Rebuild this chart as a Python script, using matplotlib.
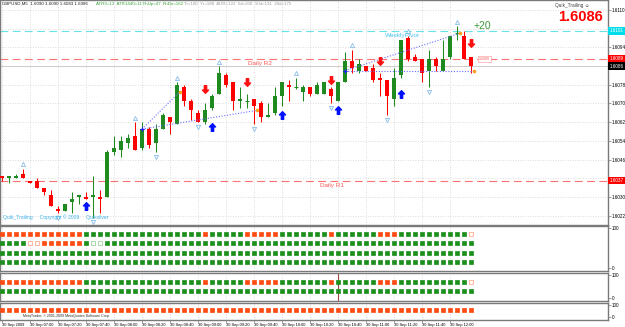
import matplotlib
matplotlib.use("Agg")
import matplotlib.pyplot as plt
import matplotlib.transforms as mtrans
import numpy as np
from matplotlib.path import Path

plt.rcParams.update({
    "font.family": ["Liberation Sans", "DejaVu Sans"],
    "axes.linewidth": 1.0,
})

W, H = 625, 327

# ---- data: GBPUSD M5, 30 Sep 2009, 06:40 .. 12:15 ----
opens = [1.6039, 1.6038, 1.6038, 1.6040, 1.6037, 1.6037, 1.6034, 1.6031, 1.6025, 1.6024,
         1.6028, 1.6030, 1.6030, 1.6030, 1.6030, 1.6030, 1.6049, 1.6050, 1.6053, 1.6056,
         1.6051, 1.6059, 1.6053, 1.6059, 1.6064, 1.6061, 1.6077, 1.6071, 1.6066, 1.6062,
         1.6068, 1.6074, 1.6082, 1.6079, 1.6071, 1.6071, 1.6072, 1.6070, 1.6064, 1.6066,
         1.6073, 1.6078, 1.6077, 1.6075, 1.6077, 1.6074, 1.6074, 1.6076, 1.6071, 1.6079,
         1.6088, 1.6084, 1.6086, 1.6085, 1.6081, 1.6080, 1.6072, 1.6082, 1.6098, 1.6090,
         1.6089, 1.6084, 1.6089, 1.6084, 1.6090, 1.6100, 1.6099, 1.6090]
highs = [1.6039, 1.6039, 1.6040, 1.6042, 1.6037, 1.6038, 1.6034, 1.6033, 1.6026, 1.6027,
         1.6032, 1.6031, 1.6032, 1.6039, 1.6033, 1.6050, 1.6056, 1.6056, 1.6057, 1.6062,
         1.6062, 1.6060, 1.6061, 1.6066, 1.6064, 1.6079, 1.6078, 1.6072, 1.6067, 1.6070,
         1.6074, 1.6086, 1.6083, 1.6079, 1.6077, 1.6074, 1.6072, 1.6071, 1.6070, 1.6077,
         1.6079, 1.6080, 1.6081, 1.6078, 1.6077, 1.6079, 1.6079, 1.6077, 1.6079, 1.6092,
         1.6093, 1.6089, 1.6086, 1.6087, 1.6083, 1.6080, 1.6085, 1.6097, 1.6099, 1.6091,
         1.6089, 1.6093, 1.6090, 1.6097, 1.6099, 1.6103, 1.6101, 1.6090]
lows = [1.6037, 1.6036, 1.6038, 1.6038, 1.6036, 1.6034, 1.6031, 1.6026, 1.6023, 1.6024,
        1.6023, 1.6027, 1.6029, 1.6021, 1.6023, 1.6030, 1.6048, 1.6047, 1.6051, 1.6050,
        1.6050, 1.6051, 1.6049, 1.6059, 1.6057, 1.6061, 1.6069, 1.6063, 1.6062, 1.6061,
        1.6067, 1.6074, 1.6077, 1.6067, 1.6068, 1.6068, 1.6061, 1.6062, 1.6064, 1.6065,
        1.6069, 1.6071, 1.6076, 1.6071, 1.6073, 1.6074, 1.6074, 1.6070, 1.6071, 1.6079,
        1.6083, 1.6083, 1.6084, 1.6079, 1.6073, 1.6065, 1.6069, 1.6081, 1.6088, 1.6088,
        1.6079, 1.6077, 1.6084, 1.6084, 1.6089, 1.6097, 1.6089, 1.6083]
closes = [1.6038, 1.6039, 1.6039, 1.6038, 1.6036, 1.6034, 1.6032, 1.6026, 1.6024, 1.6027,
          1.6029, 1.6031, 1.6029, 1.6031, 1.6029, 1.6049, 1.6051, 1.6054, 1.6055, 1.6050,
          1.6059, 1.6052, 1.6059, 1.6065, 1.6062, 1.6078, 1.6071, 1.6067, 1.6062, 1.6067,
          1.6073, 1.6083, 1.6078, 1.6071, 1.6072, 1.6071, 1.6069, 1.6064, 1.6065, 1.6073,
          1.6079, 1.6077, 1.6077, 1.6077, 1.6074, 1.6078, 1.6079, 1.6073, 1.6079, 1.6088,
          1.6085, 1.6087, 1.6084, 1.6080, 1.6080, 1.6073, 1.6081, 1.6097, 1.6089, 1.6088,
          1.6083, 1.6089, 1.6086, 1.6089, 1.6099, 1.6100, 1.6089, 1.6086]

time_label_bars = [0, 4, 8, 12, 16, 20, 24, 28, 32, 36, 40, 44, 48, 52, 56, 60, 64]
time_labels = ["30 Sep 2009", "30 Sep 07:00", "30 Sep 07:20", "30 Sep 07:40", "30 Sep 08:00",
               "30 Sep 08:20", "30 Sep 08:40", "30 Sep 09:00", "30 Sep 09:20", "30 Sep 09:40",
               "30 Sep 10:00", "30 Sep 10:20", "30 Sep 10:40", "30 Sep 11:00", "30 Sep 11:20",
               "30 Sep 11:40", "30 Sep 12:00"]
price_ticks = [1.6022, 1.6030, 1.6038, 1.6046, 1.6054, 1.6062, 1.6070, 1.6078,
               1.6086, 1.6094, 1.6102, 1.6110]
# labels hidden where a level tag sits on top of them
price_tick_labels = ["1.6022", "1.6030", "", "1.6046", "1.6054", "1.6062", "1.6070",
                     "1.6078", "", "1.6094", "", "1.6110"]

weekly_pivot = 1.6101
daily_r2 = 1.6089
daily_r1 = 1.6037
bid = 1.6086

fractal_up_bars = [3, 19, 25, 31, 42, 50, 58, 65]
fractal_down_bars = [8, 13, 22, 28, 36, 47, 55, 61]
buy_arrow_bars = [12, 30, 40, 48, 57]
buy_arrow_prices = [1.6026, 1.6060, 1.6065, 1.6067, 1.6074]
sell_arrow_bars = [29, 35, 47, 54, 67]
sell_arrow_prices = [1.6076, 1.6079, 1.6080, 1.6088, 1.6096]

trend_x0 = [20, 20, 49, 49]
trend_y0 = [1.6059, 1.6059, 1.6084, 1.6084]
trend_x1 = [25.4, 36.4, 65.4, 67.4]
trend_y1 = [1.6075, 1.6067, 1.6100, 1.6084]

# signal rows of the three lower windows: g/r filled, G/R hollow
row_a = ("rrrrrrrrrrrr" "ggggggggggggggggg" "r" "ggggg" "rrrrr" "ggggggg" "r"
         "gggggg" "rrr" "gggggggggg" "R")
row_b = ("gggg" "RR" "rrrrrr" "g" "GG"
         "ggggggggggggggggggggggggggggggggggggggggggggggggggggg")
row_g = "g" * len(opens)
row_r = "r" * len(opens)
panel1_rows = [row_a, row_b, row_g, row_g]
panel2_rows = [row_a, row_g]
panel3_rows = [row_r]
panel2_marker_bar = 48

# ---- colours ----
GREEN = "#1f8a1f"
RED = "#ff0000"
SQ_GREEN = "#1b8f1b"
SQ_RED = "#ff4a10"
GRID = "#d0d0d0"
FRAME = "#7a7a7a"

fig = plt.figure(figsize=(W / 100, H / 100), dpi=100)
fig.patch.set_facecolor("white")


def px_axes(x0, y0, x1, y1):
    return fig.add_axes([x0 / W, 1 - y1 / H, (x1 - x0) / W, (y1 - y0) / H])


ax = px_axes(0, 0, 608, 225)
p1 = px_axes(0, 226, 608, 271)
p2 = px_axes(0, 273, 608, 301)
p3 = px_axes(0, 303, 608, 320)
xlim = (-2 / 7, 606 / 7)

# price scale: bid sits 66 px below the top, 2.3375 px per pip
pip_px = 2.3375
ax.set_ylim(bid - 159 / pip_px * 1e-4, bid + 66 / pip_px * 1e-4)

for a in (ax, p1, p2, p3):
    a.set_xlim(*xlim)
    a.set_facecolor("white")
    for s in a.spines.values():
        s.set_color(FRAME)
        s.set_linewidth(1.0)
    a.set_xticks(time_label_bars)
    a.tick_params(axis="x", length=0, labelbottom=False)
    a.grid(axis="x", color=GRID, linestyle=(0, (1, 2)), linewidth=0.6)
    a.set_axisbelow(True)

# ---- candles ----
idx = np.arange(len(opens))
o, hi, lo, c = (np.array(v) for v in (opens, highs, lows, closes))
cols = np.where(c >= o, GREEN, RED)
ax.vlines(idx, lo, hi, colors=cols, lw=0.75, zorder=3)
ax.bar(idx, np.abs(c - o), bottom=np.minimum(o, c), width=0.68, color=cols,
       lw=0, zorder=4)
doji = c == o
ax.hlines(o[doji], idx[doji] - 0.34, idx[doji] + 0.34, colors=cols[doji], lw=0.8, zorder=4)

# ---- levels ----
ax.axhline(weekly_pivot, color="#66e3ea", ls=(0, (7, 4)), lw=0.8, zorder=2)
ax.axhline(daily_r2, color="#ff7272", ls=(0, (7, 4)), lw=0.8, zorder=2)
ax.axhline(daily_r1, color="#ff7272", ls=(0, (7, 4)), lw=0.8, zorder=2)
ax.axhline(bid, color="#c8c8c8", lw=0.6, zorder=1)

ax.set_yticks(price_ticks)
ax.set_yticklabels(price_tick_labels)
ax.yaxis.tick_right()
ax.tick_params(axis="y", labelsize=3.3, length=2, width=0.5, pad=1, color=FRAME)
ax.grid(axis="y", color=GRID, linestyle=(0, (1, 2)), linewidth=0.6)

ytr = ax.get_yaxis_transform()
for lvl, fc in [(weekly_pivot, "#00dcea"), (daily_r2, "#ff0000"), (bid, "#000000"),
                (daily_r1, "#ff0000")]:
    ax.text(1.003, lvl, f"{lvl:.4f}", transform=ytr, fontsize=3.3, color="white",
            va="center", ha="left", zorder=10, clip_on=False,
            bbox=dict(boxstyle="square,pad=0.3", fc=fc, ec="none"))

# ---- trend lines ----
for x0, y0, x1, y1 in zip(trend_x0, trend_y0, trend_x1, trend_y1):
    ax.plot([x0, x1], [y0, y1], color="#6d6dff", ls=(0, (1, 1.5)), lw=0.8, zorder=5)
ax.plot(trend_x1, trend_y1, ls="none", marker="o", ms=1.6, color="#ffa020", zorder=6)
ax.plot(trend_x0, trend_y0, ls="none", marker="+", ms=2.5, mew=0.8, color="#2020ff", zorder=6)

# ---- fractal arrowheads ----
up_off = mtrans.offset_copy(ax.transData, fig=fig, y=4.5, units="dots")
dn_off = mtrans.offset_copy(ax.transData, fig=fig, y=-4.5, units="dots")
ax.plot(fractal_up_bars, hi[fractal_up_bars], ls="none", marker="^", ms=3.0,
        mfc="white", mec="#7db8ea", mew=0.55, transform=up_off, zorder=6)
ax.plot(fractal_down_bars, lo[fractal_down_bars], ls="none", marker="v", ms=3.0,
        mfc="white", mec="#7db8ea", mew=0.55, transform=dn_off, zorder=6)

# ---- signal arrows ----
arrow_up = Path([(0, 1), (0.8, 0.15), (0.3, 0.15), (0.3, -1), (-0.3, -1),
                 (-0.3, 0.15), (-0.8, 0.15), (0, 1)], closed=True)
arrow_dn = Path(arrow_up.vertices * np.array([1, -1]), closed=True)
ax.plot(buy_arrow_bars, buy_arrow_prices, ls="none", marker=arrow_up, ms=5.5,
        color="#0010ff", zorder=7)
ax.plot(sell_arrow_bars, sell_arrow_prices, ls="none", marker=arrow_dn, ms=5.5,
        color="#ff1010", zorder=7)

# ---- texts on the price window ----
ax.text(54.7, 1.6099, "WeeklyPivot", color="#4cc6ee", fontsize=4.6, va="center", zorder=8)
ax.text(35.1, 1.6087, "Daily R2", color="#ff5a5a", fontsize=4.6, va="center", zorder=8)
ax.text(45.4, 1.6035, "Daily R1", color="#ff5a5a", fontsize=4.6, va="center", zorder=8)
ax.text(67.4, 1.6103, "+20", color="#3c9a3c", fontsize=7.5, va="center", zorder=8)
ax.text(68.1, daily_r2, "1.6089", color="#ff5a5a", fontsize=2.6, va="center", zorder=8,
        bbox=dict(boxstyle="square,pad=0.3", fc="white", ec="#ff9090", lw=0.4))

fig.text(2 / W, 1 - 4 / H, "GBPUSD,M5  1.6090 1.6090 1.6083 1.6086", fontsize=3.2,
         va="center", color="#202020")
fig.text(96 / W, 1 - 4 / H, "ATR9=13  ATR1440=11", fontsize=3.2, va="center", color="#3aa63a")
fig.text(143 / W, 1 - 4 / H, "RnUp=47", fontsize=3.2, va="center", color="#3aa63a")
fig.text(163 / W, 1 - 4 / H, "RnDn=162", fontsize=3.2, va="center", color="#3aa63a")
fig.text(184 / W, 1 - 4 / H, "Tr=100  Yr=188  ADR=122  5d=200  10d=131  20d=175",
         fontsize=3.2, va="center", color="#9a9a9a")
fig.text(590 / W, 1 - 5 / H, "Quik_Trailing \u263a", fontsize=3.4, va="center", ha="right",
         color="#404040")
fig.text(603 / W, 1 - 17 / H, "1.6086", fontsize=10.5, fontweight="bold", va="center",
         ha="right", color="#ff0000")
fig.text(3 / W, 1 - 217 / H, "Quik_Trailing     Copyright \u00a9 2009     Quiksilver",
         fontsize=3.6, va="center", color="#3fb4ea")

# ---- lower windows ----
SQ = {"g": (SQ_GREEN, SQ_GREEN), "r": (SQ_RED, SQ_RED),
      "G": ("white", "#86cf86"), "R": ("white", "#ff9878")}


def draw_rows(axp, rows, ys):
    for pattern, y in zip(rows, ys):
        for code, (fc, ec) in SQ.items():
            xs = [i for i, ch in enumerate(pattern) if ch == code]
            if xs:
                axp.scatter(xs, [y] * len(xs), s=7, marker="s", facecolors=fc,
                            edgecolors=ec, linewidths=0.5, zorder=3)


# panels use screen-pixel rows as their own y scale
p1.set_ylim(271, 226)
p2.set_ylim(301, 273)
p3.set_ylim(320, 303)
draw_rows(p1, panel1_rows, [234, 243, 253, 262])
draw_rows(p2, panel2_rows, [282, 291])
draw_rows(p3, panel3_rows, [310])
p2.axvline(panel2_marker_bar, color="#a04848", lw=0.8, zorder=2)

for axp, yt in ((p1, [228, 268]), (p2, [275, 298]), (p3, [305, 317])):
    axp.yaxis.tick_right()
    axp.set_yticks(yt)
    axp.set_yticklabels(["100", "0"])
    axp.tick_params(axis="y", labelsize=3.3, length=2, width=0.5, pad=1, color=FRAME)

p3.text(3, 316, "MetaTrader, \u00a9 2001-2009 MetaQuotes Software Corp.", fontsize=2.6,
        va="center", color="#303030")

# time axis under the last window
p3.set_xticks(time_label_bars)
p3.set_xticklabels(time_labels)
p3.tick_params(axis="x", labelbottom=True, length=2, width=0.5, pad=0.5, labelsize=2.9,
               color=FRAME)
for t in p3.get_xticklabels():
    t.set_ha("left")

fig.savefig("out.png", dpi=100, facecolor="white")
